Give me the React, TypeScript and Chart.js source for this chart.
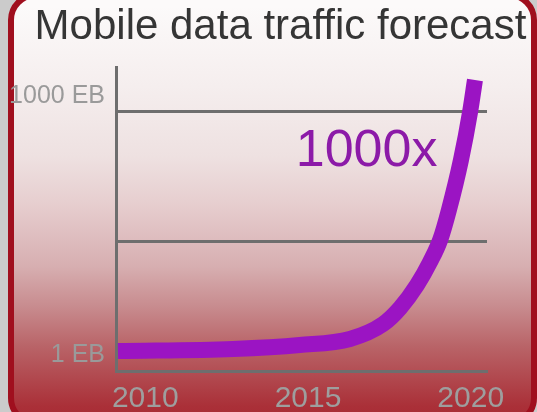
import React, { useEffect, useRef } from "react";
import { Chart, registerables } from "chart.js";

Chart.register(...registerables);

// ---- data ----
const TITLE = "Mobile data traffic forecast";
const ANNOTATION = "1000x";
const annotationAt = { year: 2016.8, value: 350 };

const years = [2009.16, 2012.7, 2014.75, 2016.29, 2017.31, 2017.83, 2018.35, 2018.75, 2019.06, 2019.33, 2019.7, 2019.98, 2020.13];
const trafficEB = [1.7, 1.8, 2.0, 2.35, 3.5, 5.37, 9.9, 18.3, 32.9, 73.3, 278, 1000, 2350];

const xTicks = [2010, 2015, 2020];
const yTicks = [1, 31.6, 1000];
const yTickLabels: Record<number, string> = { 1: "1 EB", 1000: "1000 EB" };

const X_MIN = 2009.1;
const X_MAX = 2020.5;
const Y_MIN = 1;
const Y_MAX = 3320;

const FONT = "'Liberation Sans', Arial, sans-serif";
const GRID = "#6e6e6e";
const LINE = "#9b14c3";
const TEXT_PURPLE = "#8c1aa8";

const annotationPlugin = {
  id: "annot",
  afterDraw(chart: any) {
    const { ctx, scales } = chart;
    const x = scales.x.getPixelForValue(annotationAt.year);
    const y = scales.y.getPixelForValue(annotationAt.value);
    ctx.save();
    ctx.font = `52px ${FONT}`;
    ctx.fillStyle = TEXT_PURPLE;
    ctx.textAlign = "center";
    ctx.textBaseline = "middle";
    ctx.fillText(ANNOTATION, x, y);
    ctx.restore();
  },
};

export default function App() {
  const ref = useRef<HTMLCanvasElement | null>(null);

  useEffect(() => {
    if (!ref.current) return;
    const chart = new Chart(ref.current, {
      type: "line",
      data: {
        datasets: [
          {
            data: years.map((x, i) => ({ x, y: trafficEB[i] })),
            borderColor: LINE,
            borderWidth: 16,
            pointRadius: 0,
            cubicInterpolationMode: "monotone",
            borderCapStyle: "butt",
            borderJoinStyle: "round",
            fill: false,
            clip: false as any,
          },
        ],
      },
      options: {
        animation: false,
        responsive: false,
        devicePixelRatio: 1,
        layout: { padding: { left: 0, right: -24, top: 0, bottom: 0 } },
        plugins: {
          legend: { display: false },
          tooltip: { enabled: false },
          title: {
            display: true,
            text: TITLE,
            color: "#353535",
            align: "center",
            font: { family: FONT, size: 42, weight: "normal", lineHeight: 1.2 },
            padding: { top: 2, bottom: 14.6 },
          },
        },
        scales: {
          x: {
            type: "linear",
            min: X_MIN,
            max: X_MAX,
            bounds: "data",
            grid: { display: false, drawTicks: false },
            border: { display: true, color: GRID, width: 3 },
            ticks: {
              color: "#9e9e9e",
              font: { family: FONT, size: 30 },
              padding: 10,
              maxRotation: 0,
              autoSkip: false,
              callback: (v: any) => String(v),
            },
            afterBuildTicks: (scale: any) => {
              scale.ticks = xTicks.map((v) => ({ value: v }));
            },
            afterFit: (scale: any) => {
              scale.height = 41;
            },
          },
          y: {
            type: "logarithmic",
            min: Y_MIN,
            max: Y_MAX,
            bounds: "data",
            grid: { display: true, color: GRID, lineWidth: 3, drawTicks: false },
            border: { display: true, color: GRID, width: 3 },
            ticks: {
              color: "#9a9a9a",
              font: { family: FONT, size: 25 },
              padding: 11,
              labelOffset: -16,
              autoSkip: false,
              callback: (v: any) => yTickLabels[v as number] ?? "",
            },
            afterBuildTicks: (scale: any) => {
              scale.ticks = yTicks.map((v) => ({ value: v }));
            },
            afterFit: (scale: any) => {
              scale.width = 116;
            },
          },
          yRight: {
            type: "linear",
            position: "right",
            display: true,
            grid: { display: false, drawTicks: false },
            border: { display: false },
            ticks: { display: false },
            afterFit: (scale: any) => {
              scale.width = 74;
            },
          },
        },
      },
      plugins: [annotationPlugin],
    } as any);
    return () => chart.destroy();
  }, []);

  return (
    <div
      style={{
        position: "fixed",
        left: 0,
        top: 0,
        width: 537,
        height: 412,
        overflow: "hidden",
        background: "#cbcbcb",
      }}
    >
      <div
        style={{
          position: "absolute",
          left: 8,
          top: -8,
          width: 529,
          height: 434,
          boxSizing: "border-box",
          border: "6px solid #a00f1e",
          borderRadius: 28,
          background:
            "linear-gradient(to bottom, #fcfafa 8px, #f5eeee 88px, #eee1e1 158px, #e6cdce 208px, #d7afb1 268px, #c88c8f 308px, #b96468 348px, #aa3038 408px, #a62530 434px)",
        }}
      />
      <canvas
        ref={ref}
        width={537}
        height={412}
        style={{ position: "absolute", left: 0, top: 0, width: 537, height: 412 }}
      />
    </div>
  );
}
